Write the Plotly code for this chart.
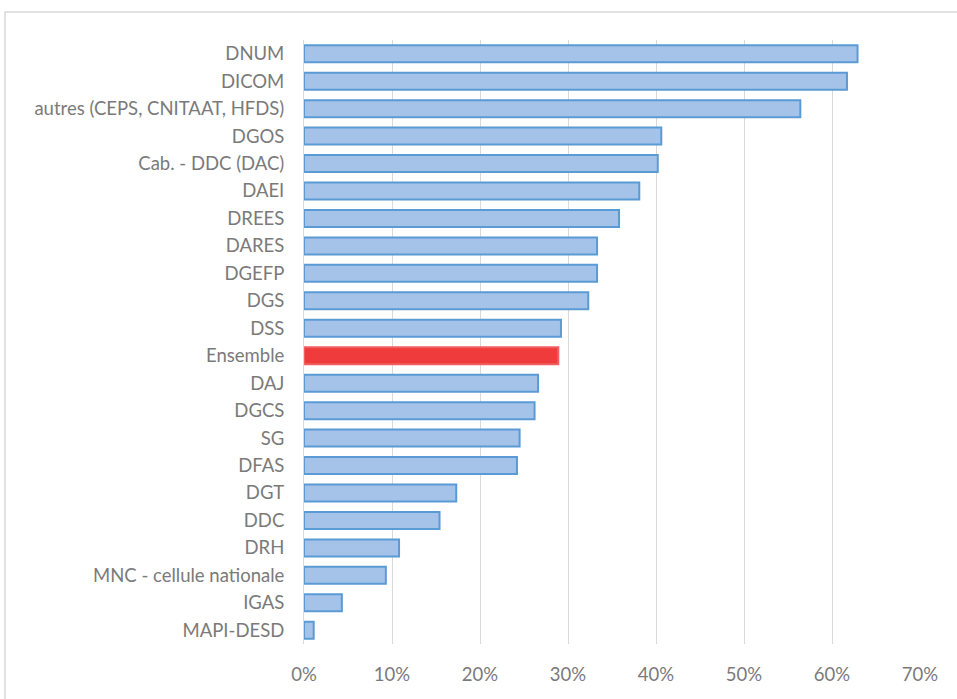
import plotly.graph_objects as go

categories = ["DNUM", "DICOM", "autres (CEPS, CNITAAT, HFDS)", "DGOS", "Cab. - DDC (DAC)",
              "DAEI", "DREES", "DARES", "DGEFP", "DGS", "DSS", "Ensemble", "DAJ", "DGCS",
              "SG", "DFAS", "DGT", "DDC", "DRH", "MNC - cellule nationale", "IGAS", "MAPI-DESD"]
values = [0.629, 0.617, 0.564, 0.406, 0.402, 0.381, 0.358, 0.333, 0.333, 0.323, 0.292,
          0.289, 0.266, 0.262, 0.245, 0.242, 0.173, 0.154, 0.108, 0.093, 0.043, 0.011]
x_ticks = [0, 0.1, 0.2, 0.3, 0.4, 0.5, 0.6, 0.7]
x_tick_labels = ["0%", "10%", "20%", "30%", "40%", "50%", "60%", "70%"]

fills = ["#ef3b3b" if c == "Ensemble" else "#a5c3e9" for c in categories]
lines = ["#f06060" if c == "Ensemble" else "#5b9bd5" for c in categories]

fig = go.Figure(go.Bar(
    x=values, y=categories, orientation="h",
    marker=dict(color=fills, line=dict(color=lines, width=2)),
    hoverinfo="x+y",
))

font = dict(family="Lato, 'Open Sans', sans-serif", size=18.5, color="#7a7a7a")

fig.update_layout(
    width=957, height=699,
    margin=dict(l=304, r=37, t=40, b=55),
    paper_bgcolor="white", plot_bgcolor="white",
    bargap=0.38,
    showlegend=False,
    font=font,
    xaxis=dict(range=[0, 0.7], tickvals=x_ticks, ticktext=x_tick_labels,
               showgrid=True, gridcolor="#d9d9d9", gridwidth=1,
               zeroline=False, showline=False, ticks="",
               ticklabelstandoff=17, tickfont=font, fixedrange=True),
    yaxis=dict(categoryorder="array", categoryarray=categories, autorange="reversed",
               showgrid=False, zeroline=False, showline=True, linecolor="#d9d9d9", linewidth=1,
               ticks="", ticklabelstandoff=15, tickfont=font, fixedrange=True),
    shapes=[dict(type="rect", xref="paper", yref="paper",
                 x0=(5 - 304) / 616, x1=(962 - 304) / 616,
                 y0=-(705 - 644) / 604, y1=1 + (40 - 12) / 604,
                 line=dict(color="#d9d9d9", width=1.5), fillcolor="rgba(0,0,0,0)", layer="below")],
)

fig.write_html("out.html")
